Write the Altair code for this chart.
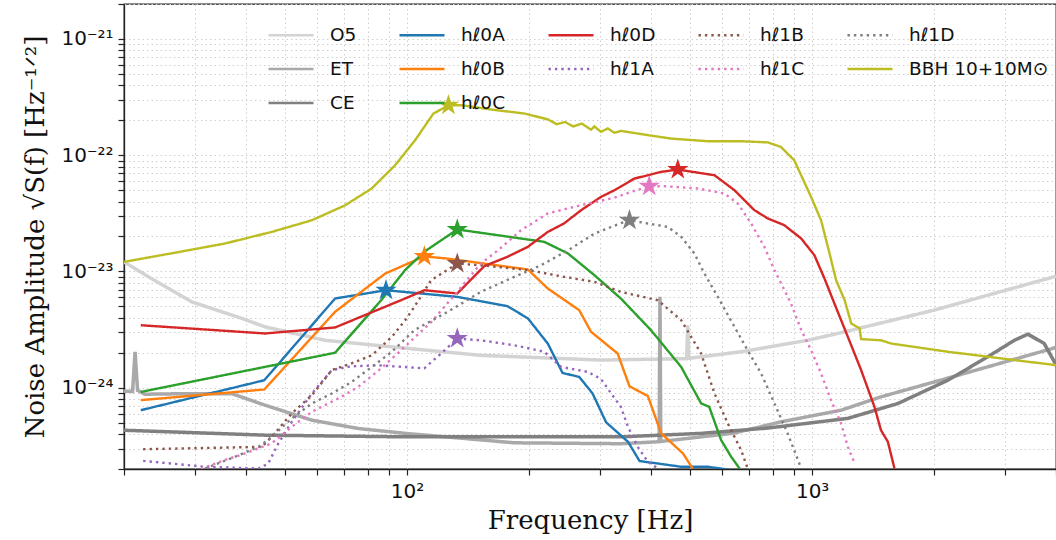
import altair as alt
import pandas as pd

# ---------------- data ----------------
O5_F = [20, 23.3, 29.4, 38.9, 44.6, 62.7, 99, 152, 301, 490, 493, 496, 668, 975, 1180, 2000, 4000]
O5_A = [1.21e-23, 8.75e-24, 5.48e-24, 3.97e-24, 3.34e-24, 2.56e-24, 2.19e-24, 1.90e-24,
        1.73e-24, 1.78e-24, 3.45e-24, 1.79e-24, 2.04e-24, 2.56e-24, 2.98e-24, 4.65e-24, 9.1e-24]

ET_F = [20, 21.0, 21.3, 21.6, 22.5, 29.4, 36.9, 44.6, 58.2, 75.8, 99, 184, 337, 416, 419,
        421, 423, 641, 837, 1179, 1479, 2163, 4000]
ET_A = [9.35e-25, 9.3e-25, 2.04e-24, 9.5e-25, 8.8e-25, 8.9e-25, 8.9e-25, 7.08e-25, 5.26e-25,
        4.46e-25, 4.05e-25, 3.36e-25, 3.30e-25, 3.43e-25, 3.43e-25, 6.05e-24, 3.45e-25,
        4.07e-25, 5.09e-25, 6.41e-25, 8.35e-25, 1.21e-24, 2.22e-24]

CE_F = [20, 44.6, 99, 337, 532, 777, 1225, 1628, 2163, 2716, 3158, 3409, 3741, 4027]
CE_A = [4.31e-25, 3.91e-25, 3.78e-25, 3.78e-25, 4.05e-25, 4.5e-25, 5.45e-25, 7.32e-25,
        1.16e-24, 1.85e-24, 2.56e-24, 2.89e-24, 2.4e-24, 1.51e-24]

HL0A_F = [22.0, 44.4, 66.4, 88.7, 133, 177, 198.7, 222.5, 242, 266, 287, 310, 351, 375, 416,
          475, 553, 619]
HL0A_A = [6.41e-25, 1.16e-24, 5.86e-24, 6.9e-24, 6.05e-24, 5.03e-24, 3.95e-24, 2.4e-24,
          1.34e-24, 1.24e-24, 8.93e-25, 5.04e-25, 3.43e-25, 2.34e-25, 2.23e-25, 2.09e-25,
          2.09e-25, 1.98e-25]

HL0B_F = [22.0, 44.4, 66.4, 88.3, 110.3, 126, 198.7, 222.5, 266, 284.5, 331, 354, 393, 424,
          480, 507]
HL0B_A = [7.82e-25, 9.66e-25, 4.5e-24, 9.6e-24, 1.35e-23, 1.29e-23, 1.04e-23, 7.14e-24,
          4.65e-24, 3.03e-24, 1.97e-24, 1.03e-24, 8.48e-25, 4.05e-25, 2.72e-25, 2.02e-25]

HL0C_F = [22.0, 66.4, 86.3, 98.9, 110.3, 133, 218, 249.5, 290, 337, 400, 475, 532, 557, 596,
          631, 662]
HL0C_A = [9.2e-25, 2.0e-24, 5.66e-24, 1.03e-23, 1.48e-23, 2.3e-23, 1.8e-23, 1.43e-23,
          9.3e-24, 5.86e-24, 3.13e-24, 1.51e-24, 7.33e-25, 6.86e-25, 3.55e-25, 2.55e-25,
          2.02e-25]

HL0D_F = [22.0, 44.6, 66.4, 98.9, 110.3, 133, 155, 177, 198.7, 222.5, 244, 269, 301, 325, 364,
          424, 466, 574, 643, 720, 777, 854, 940, 1013, 1072, 1135, 1225, 1321, 1425, 1479,
          1538, 1597]
HL0D_A = [3.45e-24, 2.93e-24, 3.3e-24, 5.86e-24, 6.9e-24, 6.47e-24, 1.11e-23, 1.34e-23,
          1.63e-23, 2.19e-23, 2.59e-23, 3.37e-23, 4.38e-23, 5.0e-23, 6.3e-23, 7.19e-23,
          7.53e-23, 6.73e-23, 5.0e-23, 3.37e-23, 2.86e-23, 2.5e-23, 1.92e-23, 1.38e-23,
          8.75e-24, 5.3e-24, 2.74e-24, 1.42e-24, 6.86e-25, 4.31e-25, 3.43e-25, 2.02e-25]

HL1A_F = [22.3, 31.7, 43, 45.4, 48.1, 51.9, 58.2, 65.2, 72.9, 84.9, 110.3, 121.3, 133, 152,
          184, 218, 240, 279, 301, 319, 337, 351, 371, 393, 416]
HL1A_A = [2.35e-25, 2.09e-25, 2.02e-25, 2.23e-25, 3.32e-25, 5.09e-25, 8.93e-25, 1.42e-24,
          1.53e-24, 1.56e-24, 1.47e-24, 1.97e-24, 2.65e-24, 2.56e-24, 2.32e-24, 2.04e-24,
          1.51e-24, 1.37e-24, 1.19e-24, 8.93e-25, 6.86e-25, 4.61e-25, 3.1e-25, 2.31e-25,
          2.02e-25]

HL1B_F = [22.3, 43.8, 46.3, 51.9, 58.2, 65.2, 72.9, 81.8, 91.7, 98.9, 104.2, 114.6, 133, 152,
          198.7, 244, 290, 337, 416, 475, 532, 574, 619, 668, 693]
HL1B_A = [2.96e-25, 3.1e-25, 3.78e-25, 6.01e-25, 8.63e-25, 1.42e-24, 1.62e-24, 1.9e-24,
          2.74e-24, 3.81e-24, 4.96e-24, 8.41e-24, 1.17e-23, 1.13e-23, 1.03e-23, 9.0e-24,
          8.15e-24, 6.68e-24, 5.66e-24, 3.81e-24, 1.97e-24, 8.93e-25, 4.93e-25, 2.9e-25,
          2.02e-25]

HL1C_F = [31, 35.5, 39.8, 46.3, 51.9, 58.2, 67.7, 75.8, 86.3, 96.6, 114.6, 133, 152, 167.6,
          191, 222.5, 269, 325, 357, 396, 432, 522, 607, 655, 707, 762, 807, 887, 940, 994,
          1052, 1113, 1179, 1225, 1272]
HL1C_A = [2.0e-25, 2.39e-25, 2.72e-25, 3.32e-25, 4.61e-25, 6.21e-25, 8.1e-25, 1.02e-24,
          1.47e-24, 2.1e-24, 3.66e-24, 6.68e-24, 1.17e-23, 1.52e-23, 2.26e-23, 3.16e-23,
          3.72e-23, 4.31e-23, 4.83e-23, 5.41e-23, 5.41e-23, 5.18e-23, 4.69e-23, 3.85e-23,
          2.59e-23, 1.63e-23, 1.03e-23, 5.3e-24, 3.13e-24, 2.1e-24, 1.33e-24, 7.82e-25,
          4.93e-25, 3.1e-25, 2.26e-25]

HL1D_F = [31.7, 37.6, 43, 46.3, 51.9, 58.2, 65.2, 72.9, 81.8, 91.7, 104.2, 126, 152, 184, 214,
          249.5, 290, 337, 354, 393, 440, 475, 512, 542, 585, 643, 693, 748, 807, 870, 940]
HL1D_A = [2.02e-25, 2.55e-25, 3.1e-25, 3.78e-25, 5.45e-25, 7.33e-25, 8.93e-25, 1.12e-24,
          1.51e-24, 2.04e-24, 3.13e-24, 4.5e-24, 6.68e-24, 9.0e-24, 1.13e-23, 1.52e-23,
          2.12e-23, 2.6e-23, 2.76e-23, 2.59e-23, 2.42e-23, 1.99e-23, 1.43e-23, 9.6e-24,
          6.05e-24, 3.34e-24, 2.1e-24, 1.33e-24, 7.33e-25, 4.05e-25, 2.02e-25]

BBH_F = [20, 26.7, 35.5, 46.3, 58.2, 70.3, 81.8, 93.4, 104.7, 116.1, 126.5, 136.5, 161.9,
         195.6, 223, 234, 245.6, 257, 270, 284.5, 290, 301, 313, 325, 337, 393, 449, 553,
         668, 777, 837, 903, 994, 1052, 1104, 1146, 1203, 1249, 1310, 1321, 1479, 1567,
         2163, 3158, 4027]
BBH_A = [1.21e-23, 1.45e-23, 1.74e-23, 2.19e-23, 2.76e-23, 3.71e-23, 5.18e-23, 8.2e-23,
         1.35e-22, 2.28e-22, 2.69e-22, 2.69e-22, 2.47e-22, 2.28e-22, 2.03e-22, 1.85e-22,
         1.93e-22, 1.77e-22, 1.87e-22, 1.66e-22, 1.77e-22, 1.59e-22, 1.7e-22, 1.56e-22,
         1.62e-22, 1.49e-22, 1.39e-22, 1.32e-22, 1.32e-22, 1.29e-22, 1.18e-22, 9.06e-23,
         4.38e-23, 2.76e-23, 1.43e-23, 8.41e-24, 5.66e-24, 3.57e-24, 3.24e-24, 2.62e-24,
         2.56e-24, 2.4e-24, 2.04e-24, 1.73e-24, 1.56e-24]

BBH_LABEL = "BBH 10+10M\u2299"

# peak markers (stars)
STAR_NAMES = ["h\u21130A", "h\u21130B", "h\u21130C", "h\u21130D", "h\u21131A", "h\u21131B",
              "h\u21131C", "h\u21131D", BBH_LABEL]
STAR_F = [88.7, 110.3, 133, 466, 133, 133, 396, 354, 126.5]
STAR_A = [6.9e-24, 1.35e-23, 2.3e-23, 7.53e-23, 2.65e-24, 1.17e-23, 5.41e-23, 2.76e-23, 2.69e-22]

DETECTORS = [("O5", O5_F, O5_A), ("ET", ET_F, ET_A), ("CE", CE_F, CE_A)]
SIGNALS = [
    ("h\u21130A", HL0A_F, HL0A_A), ("h\u21130B", HL0B_F, HL0B_A),
    ("h\u21130C", HL0C_F, HL0C_A), ("h\u21130D", HL0D_F, HL0D_A),
    ("h\u21131A", HL1A_F, HL1A_A), ("h\u21131B", HL1B_F, HL1B_A),
    ("h\u21131C", HL1C_F, HL1C_A), ("h\u21131D", HL1D_F, HL1D_A),
    (BBH_LABEL, BBH_F, BBH_A),
]

X_TICK_LABELS = {100: "10\u00b2", 1000: "10\u00b3"}
Y_TICK_LABELS = [(1e-24, "10\u207b\u00b2\u2074"), (1e-23, "10\u207b\u00b2\u00b3"),
                 (1e-22, "10\u207b\u00b2\u00b2"), (1e-21, "10\u207b\u00b2\u00b9")]
X_TICKS = [20, 30, 40, 50, 60, 70, 80, 90, 100, 200, 300, 400, 500, 600, 700, 800, 900,
           1000, 2000, 3000, 4000]
Y_TICKS = [2e-25, 3e-25, 4e-25, 5e-25, 6e-25, 7e-25, 8e-25, 9e-25,
           1e-24, 2e-24, 3e-24, 4e-24, 5e-24, 6e-24, 7e-24, 8e-24, 9e-24,
           1e-23, 2e-23, 3e-23, 4e-23, 5e-23, 6e-23, 7e-23, 8e-23, 9e-23,
           1e-22, 2e-22, 3e-22, 4e-22, 5e-22, 6e-22, 7e-22, 8e-22, 9e-22, 1e-21, 2e-21]

# ---------------- styles ----------------
COLORS = {"O5": "#d3d3d3", "ET": "#a9a9a9", "CE": "#808080",
          "h\u21130A": "#1f77b4", "h\u21130B": "#ff7f0e", "h\u21130C": "#2ca02c",
          "h\u21130D": "#d62728", "h\u21131A": "#9467bd", "h\u21131B": "#8c564b",
          "h\u21131C": "#e377c2", "h\u21131D": "#7f7f7f", BBH_LABEL: "#bcbd22"}
DOTTED = {"h\u21131A", "h\u21131B", "h\u21131C", "h\u21131D"}
STAR_PATH = ("M0,-1L0.2245,-0.309L0.9511,-0.309L0.3633,0.118L0.5878,0.809L0,0.382"
             "L-0.5878,0.809L-0.3633,0.118L-0.9511,-0.309L-0.2245,-0.309Z")

# legend reading order (row-major, 5 columns)
ORDER = ["O5", "h\u21130A", "h\u21130D", "h\u21131B", "h\u21131D",
         "ET", "h\u21130B", "h\u21131A", "h\u21131C", BBH_LABEL,
         "CE", "h\u21130C"]


def frame(series):
    rows = []
    for name, fs, amps in series:
        for f, a in zip(fs, amps):
            rows.append({"name": name, "f": f, "A": a})
    return pd.DataFrame(rows)


df_det = frame(DETECTORS)
df_sig = frame(SIGNALS)
df_star = pd.DataFrame({"name": STAR_NAMES, "f": STAR_F, "A": STAR_A,
                        "hex": [COLORS[n] for n in STAR_NAMES]})

x_expr = " : ".join(f"datum.value == {v} ? '{t}'" for v, t in X_TICK_LABELS.items()) + " : ''"
y_expr = " : ".join(f"abs(datum.value / {v} - 1) < 1e-6 ? '{t}'" for v, t in Y_TICK_LABELS) + " : ''"

xscale = alt.Scale(type="log", domain=[20, 4000])
yscale = alt.Scale(type="log", domain=[2e-25, 2e-21])
cscale = alt.Scale(domain=ORDER, range=[COLORS[n] for n in ORDER])
dscale = alt.Scale(domain=ORDER, range=[[2.4, 4] if n in DOTTED else [1, 0] for n in ORDER])

legend = alt.Legend(
    title=None, orient="none", legendX=143, legendY=7, columns=5, direction="horizontal",
    symbolType="stroke", symbolSize=2025, symbolStrokeWidth=2.6,
    labelFont="DejaVu Sans", labelFontSize=18.5, labelColor="#111", labelOffset=15,
    columnPadding=37, rowPadding=-17, labelLimit=300,
)

x_enc = alt.X("f:Q", scale=xscale, title="Frequency  [Hz]",
              axis=alt.Axis(values=X_TICKS, labelExpr=x_expr))
y_enc = alt.Y("A:Q", scale=yscale, title="Noise Amplitude \u221aS(f)  [Hz\u207b\u00b9\u141f\u00b2]",
              axis=alt.Axis(values=Y_TICKS, labelExpr=y_expr))

det_lines = alt.Chart(df_det).mark_line(clip=True, strokeWidth=3.5).encode(
    x=x_enc, y=y_enc,
    color=alt.Color("name:N", scale=cscale, legend=legend),
    strokeDash=alt.StrokeDash("name:N", scale=dscale, legend=legend),
)

sig_lines = alt.Chart(df_sig).mark_line(clip=True, strokeWidth=2.4).encode(
    x=alt.X("f:Q", scale=xscale), y=alt.Y("A:Q", scale=yscale),
    color=alt.Color("name:N", scale=cscale, legend=legend),
    strokeDash=alt.StrokeDash("name:N", scale=dscale, legend=legend),
)

stars = alt.Chart(df_star).mark_point(shape=STAR_PATH, filled=True, size=500, opacity=1).encode(
    x=alt.X("f:Q", scale=xscale),
    y=alt.Y("A:Q", scale=yscale),
    fill=alt.Fill("hex:N", scale=None),
)

chart = alt.layer(det_lines, sig_lines, stars).properties(
    width=932, height=465,
    padding={"left": 124, "top": 4, "right": 0, "bottom": 71},
    autosize=alt.AutoSizeParams(type="none"),
).configure_view(
    stroke="#222", strokeWidth=1.3
).configure_axis(
    grid=True, gridColor="#cfcfcf", gridDash=[1.5, 3], gridWidth=1,
    domainColor="#222", domainWidth=1.3, tickColor="#222", tickSize=6, tickWidth=1.2,
    labelFont="DejaVu Sans", labelFontSize=20, labelColor="#111", labelOverlap=False,
    labelFlush=False,
    titleFont="DejaVu Serif", titleFontSize=26, titleFontWeight="normal", titleColor="#111",
).configure_axisX(
    labelPadding=6, titlePadding=6
).configure_axisY(
    labelPadding=5, titlePadding=12
)

chart.save("out.html", embed_options={"renderer": "svg", "actions": False})
